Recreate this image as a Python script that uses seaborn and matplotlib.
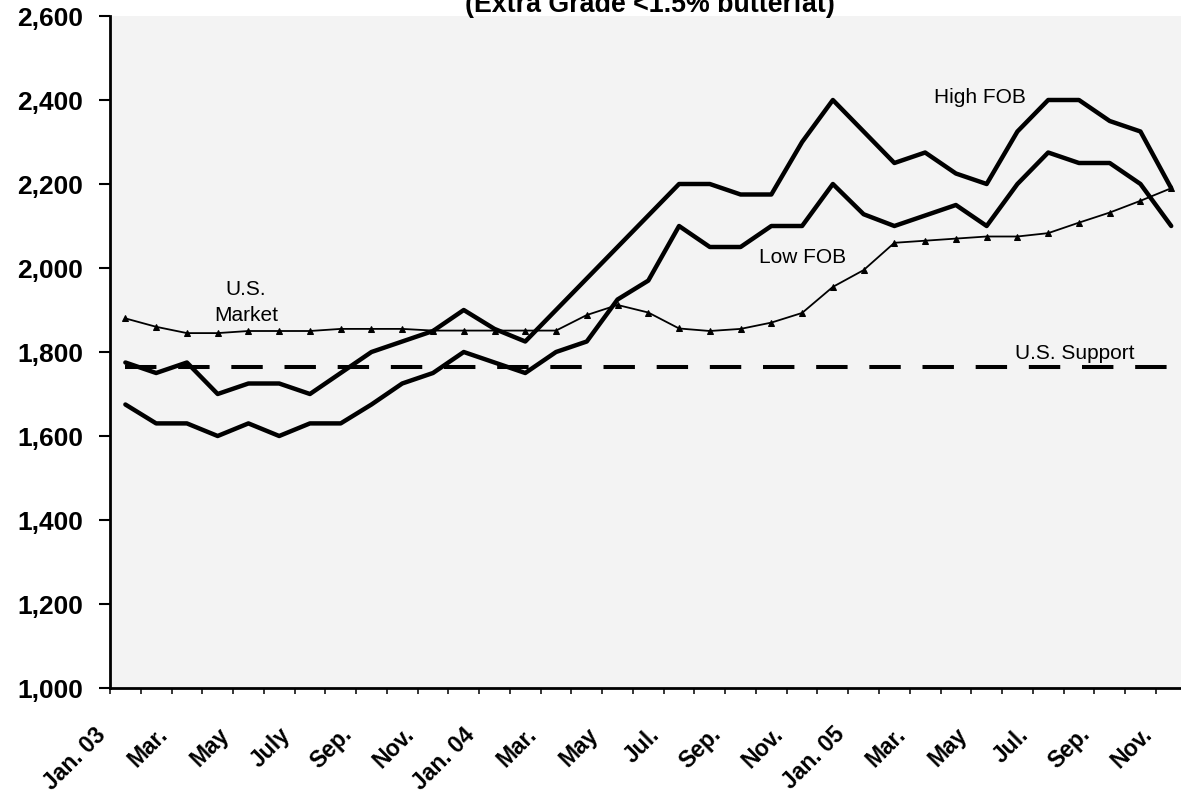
import numpy as np
import pandas as pd
import matplotlib
matplotlib.use("Agg")
import matplotlib.pyplot as plt
import matplotlib.transforms as mtrans
from matplotlib.ticker import FuncFormatter
import seaborn as sns

# ---- data (monthly, Jan 2003 - Nov 2005), $/metric ton ----
high_fob = [1775, 1750, 1775, 1700, 1725, 1725, 1700, 1750, 1800, 1825, 1850, 1900,
            1855, 1825, 1900, 1975, 2050, 2125, 2200, 2200, 2175, 2175, 2300, 2400,
            2325, 2250, 2275, 2225, 2200, 2325, 2400, 2400, 2350, 2325, 2190]
low_fob = [1675, 1630, 1630, 1600, 1630, 1600, 1630, 1630, 1675, 1725, 1750, 1800,
           1775, 1750, 1800, 1825, 1925, 1970, 2100, 2050, 2050, 2100, 2100, 2200,
           2128, 2100, 2125, 2150, 2100, 2200, 2275, 2250, 2250, 2200, 2100]
us_market = [1880, 1860, 1845, 1845, 1850, 1850, 1850, 1855, 1855, 1855, 1851, 1851,
             1851, 1851, 1851, 1888, 1912, 1894, 1856, 1850, 1855, 1870, 1893, 1955,
             1995, 2060, 2065, 2070, 2075, 2075, 2083, 2108, 2132, 2160, 2190]
us_support = 1764
tick_labels = ["Jan. 03", "Mar.", "May", "July", "Sep.", "Nov.",
               "Jan. 04", "Mar.", "May", "Jul.", "Sep.", "Nov.",
               "Jan. 05", "Mar.", "May", "Jul.", "Sep.", "Nov."]
y_ticks = [1000, 1200, 1400, 1600, 1800, 2000, 2200, 2400, 2600]
title = "(Extra Grade <1.5% butterfat)"

sns.set_theme(style="white")
plt.rcParams["font.family"] = ["Liberation Sans", "DejaVu Sans"]

W, H = 1181, 793
fig = plt.figure(figsize=(W / 100, H / 100), dpi=100)
fig.patch.set_facecolor("white")
ax = fig.add_axes([110 / W, 105 / H, 1076.6 / W, 672 / H])
ax.set_facecolor("#F3F3F3")

n = len(high_fob)
df = pd.DataFrame({
    "month": np.arange(n),
    "High FOB": high_fob,
    "Low FOB": low_fob,
    "U.S. Market": us_market,
    "U.S. Support": [us_support] * n,
})

sns.lineplot(data=df, x="month", y="U.S. Support", ax=ax, color="black", linewidth=2.9)
ax.lines[-1].set_linestyle((0, (7.8, 5.4)))
ax.lines[-1].set_dash_capstyle("butt")
sns.lineplot(data=df, x="month", y="Low FOB", ax=ax, color="black", linewidth=3.2)
sns.lineplot(data=df, x="month", y="High FOB", ax=ax, color="black", linewidth=3.2)
sns.lineplot(data=df, x="month", y="U.S. Market", ax=ax, color="black", linewidth=1.3,
             marker="^", markersize=5, markeredgecolor="black", markerfacecolor="black")

ax.set_xlabel("")
ax.set_ylabel("")
ax.set_xlim(-0.5, n - 0.5)
ax.set_ylim(1000, 2600)

# y axis
ax.set_yticks(y_ticks)
ax.yaxis.set_major_formatter(FuncFormatter(lambda v, p: f"{v:,.0f}"))
ax.tick_params(axis="y", which="major", left=True, length=7.7, width=1.5,
               pad=11.5, labelsize=19, color="black", labelcolor="black", direction="out")
for lbl in ax.get_yticklabels():
    lbl.set_fontweight("bold")

# x axis: tick marks between categories, labels on every 2nd category
ax.set_xticks(np.arange(-0.5, n + 0.5, 1.0))
ax.tick_params(axis="x", which="major", bottom=True, length=4.5, width=1.1,
               labelbottom=False, color="black", direction="out")
ax.set_xticks(np.arange(0, n, 2), minor=True)
ax.set_xticklabels(tick_labels, minor=True)
ax.tick_params(axis="x", which="minor", bottom=True, length=0, pad=0,
               labelsize=16.5, labelcolor="black")
offset = mtrans.ScaledTranslation(-31 / 100, -35 / 100, fig.dpi_scale_trans)
for lbl in ax.get_xticklabels(minor=True):
    lbl.set_rotation(45)
    lbl.set_ha("right")
    lbl.set_va("top")
    lbl.set_rotation_mode("anchor")
    lbl.set_fontweight("bold")
    lbl.set_transform(lbl.get_transform() + offset)

for s in ["top", "right"]:
    ax.spines[s].set_visible(False)
for s in ["left", "bottom"]:
    ax.spines[s].set_color("black")
    ax.spines[s].set_linewidth(2.0)

# series annotations
txt_kw = dict(fontsize=15, color="black", ha="center", va="baseline")
ax.text(3.92, 1936, "U.S.", **txt_kw)
ax.text(3.92, 1874, "Market", **txt_kw)
ax.text(27.78, 2394, "High FOB", **txt_kw)
ax.text(22.02, 2011, "Low FOB", **txt_kw)
ax.text(30.87, 1783, "U.S. Support", **txt_kw)

fig.text(650 / W, 1 - 11.5 / H, title, ha="center", va="baseline",
         fontsize=19.3, fontweight="bold", color="black")

fig.savefig("out.png", dpi=100)
